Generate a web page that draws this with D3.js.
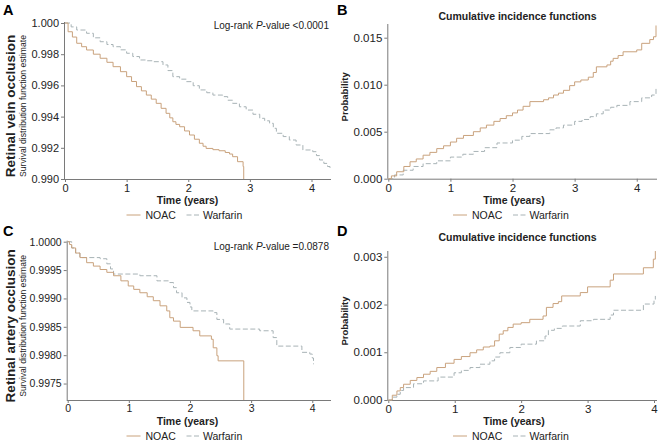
<!DOCTYPE html>
<html><head><meta charset="utf-8">
<script src="https://cdn.jsdelivr.net/npm/d3@7"></script>
<style>body{margin:0;background:#fff}svg{display:block;font-family:"Liberation Sans",Arial,sans-serif}</style>
</head><body><svg id="c" width="658" height="442"></svg>
<script>
// ---- data ----
const xTicks = [0, 1, 2, 3, 4];
const seriesNames = ["NOAC", "Warfarin"];
const panelLetters = ["A", "B", "C", "D"];
const rowLabels = ["Retinal vein occlusion", "Retinal artery occlusion"];
const pValues = ["<0.0001", "=0.0878"];
const yTicksA = [0.990, 0.992, 0.994, 0.996, 0.998, 1.000];
const yTicksB = [0.000, 0.005, 0.010, 0.015];
const yTicksC = [0.9975, 0.9980, 0.9985, 0.9990, 0.9995, 1.0000];
const yTicksD = [0.000, 0.001, 0.002, 0.003];

const rvoNoacSurv = [[0,1.0],[0.05,0.99944],[0.12,0.9991],[0.19,0.9987],[0.27,0.99848],[0.35,0.99827],[0.46,0.998],[0.57,0.99774],[0.68,0.99748],[0.78,0.9972],[0.9,0.99688],[1.0,0.99656],[1.08,0.99625],[1.16,0.99592],[1.24,0.99565],[1.32,0.99538],[1.4,0.99512],[1.48,0.99485],[1.56,0.99453],[1.64,0.99421],[1.7,0.99392],[1.75,0.99367],[1.8,0.9935],[1.86,0.99335],[1.94,0.99308],[2.02,0.99282],[2.1,0.99255],[2.18,0.99229],[2.24,0.9921],[2.29,0.99196],[2.4,0.99188],[2.5,0.99181],[2.6,0.9917],[2.67,0.9916],[2.72,0.99143],[2.8,0.99111],[2.89,0.9908],[2.9,0.990]];
const rvoWarfSurv = [[0,1],[0.1,0.99975],[0.19,0.99955],[0.35,0.99934],[0.46,0.99905],[0.57,0.9988],[0.68,0.99862],[0.78,0.99848],[0.9,0.99828],[1.0,0.99806],[1.1,0.99785],[1.21,0.99763],[1.32,0.99758],[1.43,0.99752],[1.59,0.99731],[1.67,0.99695],[1.75,0.99656],[1.86,0.9964],[1.97,0.99624],[2.08,0.99598],[2.18,0.99571],[2.3,0.99553],[2.4,0.99538],[2.56,0.99528],[2.64,0.99505],[2.72,0.99485],[2.83,0.99463],[2.94,0.99442],[3.05,0.99415],[3.16,0.99389],[3.24,0.99373],[3.32,0.99357],[3.38,0.99325],[3.43,0.99293],[3.54,0.99272],[3.64,0.9925],[3.75,0.99218],[3.86,0.99186],[4.02,0.99175],[4.08,0.9915],[4.13,0.99122],[4.2,0.991],[4.26,0.9908],[4.3,0.99071]];
const rvoNoacCif = [[0,0],[0.05,0.0003],[0.135,0.00074],[0.25,0.0013],[0.35,0.0018],[0.45,0.0021],[0.56,0.0025],[0.67,0.0028],[0.78,0.0032],[0.89,0.0035],[1.0,0.0039],[1.1,0.0043],[1.21,0.0046],[1.37,0.005],[1.48,0.0054],[1.58,0.0057],[1.7,0.0061],[1.8,0.0064],[1.9,0.0067],[2.0,0.007],[2.08,0.0073],[2.17,0.0077],[2.28,0.0082],[2.5,0.0084],[2.58,0.0086],[2.66,0.0089],[2.74,0.0091],[2.82,0.0094],[2.92,0.0099],[3.0,0.0103],[3.1,0.0105],[3.22,0.0108],[3.3,0.0113],[3.35,0.0119],[3.52,0.0121],[3.58,0.0125],[3.62,0.0128],[3.7,0.0131],[3.78,0.0135],[4.0,0.0137],[4.08,0.0144],[4.21,0.0148],[4.27,0.0151],[4.31,0.0163]];
const rvoWarfCif = [[0,0],[0.1,0.0004],[0.24,0.0009],[0.4,0.0013],[0.56,0.0016],[0.78,0.0019],[1.0,0.0023],[1.2,0.0026],[1.37,0.0029],[1.55,0.0033],[1.75,0.0038],[2.0,0.0041],[2.15,0.0045],[2.28,0.0048],[2.6,0.0052],[2.7,0.0054],[2.82,0.0057],[3.0,0.0061],[3.12,0.0063],[3.25,0.0066],[3.35,0.0069],[3.46,0.0073],[3.58,0.0076],[3.68,0.0078],[3.89,0.0082],[4.08,0.0086],[4.24,0.0089],[4.31,0.0096]];
const raoNoacSurv = [[0,1],[0.03,0.99995],[0.065,0.99989],[0.13,0.9998],[0.2,0.99972],[0.31,0.99963],[0.42,0.99957],[0.53,0.99951],[0.64,0.99946],[0.75,0.9994],[0.87,0.99931],[0.99,0.99922],[1.08,0.99916],[1.18,0.9991],[1.3,0.99903],[1.4,0.99896],[1.51,0.99887],[1.62,0.99878],[1.67,0.99866],[1.73,0.9986],[1.84,0.99849],[2.05,0.99843],[2.16,0.99834],[2.35,0.99828],[2.38,0.99813],[2.44,0.99799],[2.46,0.9979],[2.88,0.99721]];
const raoWarfSurv = [[0,1],[0.065,0.99989],[0.13,0.9998],[0.2,0.99972],[0.53,0.9997],[0.64,0.99961],[0.7,0.99952],[0.75,0.99943],[1.18,0.9994],[1.46,0.99931],[1.67,0.99928],[1.73,0.99919],[1.78,0.9991],[1.87,0.99901],[1.95,0.99893],[2.0,0.99885],[2.03,0.99878],[2.38,0.99875],[2.44,0.99863],[2.55,0.99855],[2.65,0.99846],[3.14,0.99843],[3.36,0.99831],[3.42,0.99816],[3.83,0.99805],[3.96,0.99802],[4.0,0.99795],[4.02,0.99784]];
const raoNoacCif = [[0,0],[0.06,0.0001],[0.13,0.00019],[0.18,0.00026],[0.23,0.00033],[0.33,0.00041],[0.43,0.00047],[0.53,0.00054],[0.63,0.0006],[0.73,0.00068],[0.86,0.00077],[0.99,0.00085],[1.1,0.00091],[1.23,0.00099],[1.33,0.00105],[1.43,0.00111],[1.53,0.00113],[1.6,0.00124],[1.67,0.00138],[1.73,0.00145],[1.8,0.00152],[1.88,0.00159],[2.0,0.00162],[2.13,0.00169],[2.33,0.00176],[2.38,0.00194],[2.48,0.00202],[2.56,0.00206],[2.61,0.00218],[2.89,0.00225],[3.0,0.00237],[3.34,0.00251],[3.39,0.00264],[3.84,0.00277],[3.99,0.00295],[4.02,0.00312]];
const raoWarfCif = [[0,0],[0.06,0.00006],[0.13,0.00012],[0.18,0.0002],[0.23,0.00026],[0.38,0.00034],[0.53,0.0004],[0.75,0.00048],[0.99,0.00057],[1.1,0.00062],[1.23,0.00068],[1.38,0.00075],[1.53,0.00082],[1.6,0.0009],[1.68,0.00099],[1.83,0.0011],[2.0,0.00117],[2.23,0.00124],[2.36,0.00134],[2.41,0.00146],[2.5,0.0015],[2.62,0.00155],[2.89,0.00166],[3.09,0.00169],[3.34,0.00178],[3.39,0.00188],[3.84,0.00201],[4.0,0.0021],[4.02,0.00218]];

// ---- drawing ----
const svg = d3.select("#c");
const COL = {NOAC: "#c9a27d", Warfarin: "#a8b3b6"};
const AX = "#7a7a7a";

const panels = [
  {letter:"A", lx:3, ly:15, x0:65, x1:330, xmax:4.3, y0:179, y1:23, ymin:0.990, ymax:1.000, ticks:yTicksA, fmt:".3f", fs:11,
   noac:rvoNoacSurv, warf:rvoWarfSurv, row:0, surv:true, cx:187.5, ty:204, legY:215},
  {letter:"B", lx:337, ly:15, x0:388.3, x1:656, xmax:4.31, y0:178.7, y1:25, ymin:0, ymax:0.01635, ticks:yTicksB, fmt:".3f", fs:11.5,
   noac:rvoNoacCif, warf:rvoWarfCif, row:0, surv:false, cx:514, ty:204, legY:215, title:"Cumulative incidence functions", tly:20},
  {letter:"C", lx:3, ly:236, x0:67.7, x1:330, xmax:4.29, y0:400, y1:241.7, ymin:0.99721, ymax:1.0, ticks:yTicksC, fmt:".4f", fs:10.5,
   noac:raoNoacSurv, warf:raoWarfSurv, row:1, surv:true, cx:187.5, ty:425, legY:436},
  {letter:"D", lx:337, ly:236, x0:388.3, x1:656, xmax:4.03, y0:400, y1:252, ymin:0, ymax:0.0031, ticks:yTicksD, fmt:".3f", fs:11.5,
   noac:raoNoacCif, warf:raoWarfCif, row:1, surv:false, cx:514, ty:425, legY:436, title:"Cumulative incidence functions", tly:241}
];

panels.forEach(p => {
  const g = svg.append("g");
  const x = d3.scaleLinear().domain([0, p.xmax]).range([p.x0, p.x1]);
  const y = d3.scaleLinear().domain([p.ymin, p.ymax]).range([p.y0, p.y1]);
  const axisX = p.x0 - 1;

  // letter
  g.append("text").attr("x", p.lx).attr("y", p.ly).attr("font-size", 14.5).attr("font-weight", "bold").text(p.letter);

  // y axis
  const ya = g.append("g").attr("transform", `translate(${axisX},0)`)
    .call(d3.axisLeft(y).tickValues(p.ticks).tickFormat(d3.format(p.fmt)).tickSize(3).tickPadding(2).tickSizeOuter(0));
  // x axis
  const xa = g.append("g").attr("transform", `translate(0,${p.y0})`)
    .call(d3.axisBottom(x).tickValues(xTicks).tickFormat(d3.format("d")).tickSize(3).tickPadding(2).tickSizeOuter(0));
  [ya, xa].forEach(a => {
    a.select(".domain").attr("stroke", AX);
    a.selectAll(".tick line").attr("stroke", AX);
    a.selectAll(".tick text").attr("fill", "#222").attr("font-size", p.fs).attr("font-family", '"Liberation Sans",Arial,sans-serif');
  });
  xa.select(".domain").attr("d", `M${axisX},0.5H${p.x1 + 1}`);
  ya.select(".domain").attr("d", `M0.5,${p.y0}V${p.y1 - 1}`);

  // curves
  const line = d3.line().x(d => x(d[0])).y(d => y(d[1])).curve(d3.curveStepAfter);
  g.append("path").datum(p.warf).attr("d", line).attr("fill", "none").attr("stroke", COL.Warfarin)
    .attr("stroke-width", 1).attr("stroke-dasharray", "5,2.5");
  g.append("path").datum(p.noac).attr("d", line).attr("fill", "none").attr("stroke", COL.NOAC).attr("stroke-width", 1);

  if (p.surv) {
    const t = g.append("text").attr("x", 329).attr("y", p.row === 0 ? 29 : 250).attr("text-anchor", "end")
      .attr("font-size", 10).attr("fill", "#222");
    t.append("tspan").text("Log-rank ");
    t.append("tspan").attr("font-style", "italic").text("P");
    t.append("tspan").text("-value " + pValues[p.row]);
    const cy = (p.y0 + p.y1) / 2 + 5;
    g.append("text").attr("transform", `translate(15,${cy}) rotate(-90)`).attr("text-anchor", "middle")
      .attr("font-size", 13.5).attr("font-weight", "bold").attr("fill", "#222").text(rowLabels[p.row]);
    g.append("text").attr("transform", `translate(26,${cy}) rotate(-90)`).attr("text-anchor", "middle")
      .attr("font-size", 8.6).attr("fill", "#222").text("Survival distribution function estimate");
  } else {
    g.append("text").attr("x", 517.5).attr("y", p.tly).attr("text-anchor", "middle")
      .attr("font-size", 10.5).attr("font-weight", "bold").attr("fill", "#222").text(p.title);
    const cy = (p.y0 + p.y1) / 2 - 5;
    g.append("text").attr("transform", `translate(348,${cy}) rotate(-90)`).attr("text-anchor", "middle")
      .attr("font-size", 9.5).attr("font-weight", "bold").attr("fill", "#222").text("Probability");
  }

  // x title
  g.append("text").attr("x", p.cx).attr("y", p.ty).attr("text-anchor", "middle")
    .attr("font-size", 10.5).attr("font-weight", "bold").attr("fill", "#222").text("Time (years)");

  // legend
  const lx0 = p.cx - 61;
  const leg = [{n: seriesNames[0], x: lx0, dash: null}, {n: seriesNames[1], x: lx0 + 60, dash: "5,2.5"}];
  leg.forEach(l => {
    g.append("line").attr("x1", l.x).attr("x2", l.x + 14).attr("y1", p.legY).attr("y2", p.legY)
      .attr("stroke", COL[l.n]).attr("stroke-width", 1).attr("stroke-dasharray", l.dash);
    g.append("text").attr("x", l.x + (l.n === "NOAC" ? 19 : 16.5)).attr("y", p.legY + 3.8).attr("font-size", 10.5)
      .attr("fill", "#222").text(l.n);
  });
});
</script></body></html>
